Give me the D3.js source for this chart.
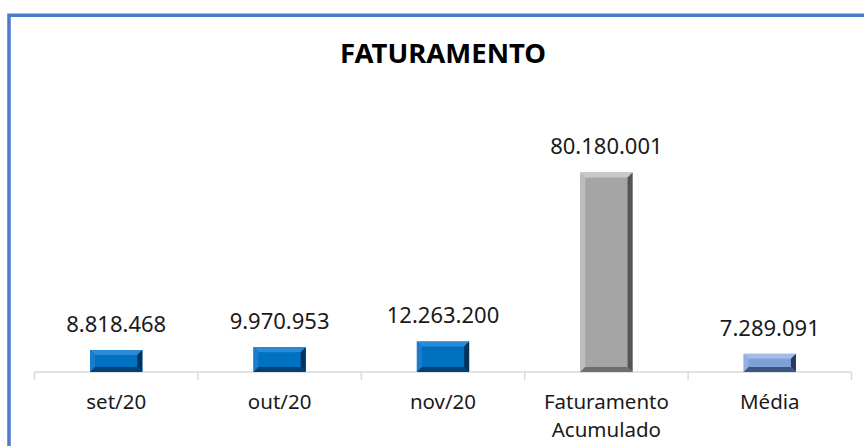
<!DOCTYPE html>
<html>
<head>
<meta charset="utf-8">
<script src="https://cdn.jsdelivr.net/npm/d3@7"></script>
<style>
  body { margin: 0; background: #fff; }
  svg { display: block; }
  text { font-family: "Noto Sans", sans-serif; fill: #1a1a1a; }
</style>
</head>
<body>
<svg id="chart"></svg>
<script>
// data
const categories = ["set/20", "out/20", "nov/20", "Faturamento Acumulado", "Média"];
const values = [8818468, 9970953, 12263200, 80180001, 7289091];
const labels = ["8.818.468", "9.970.953", "12.263.200", "80.180.001", "7.289.091"];
const barKind = ["blue", "blue", "blue", "gray", "light"];

const width = 864, height = 446;
const axisY = 372;

// bevel palettes: face, top, left, right, bottom
const palettes = {
  blue:  { face: "#0070c0", top: "#2a8ad6", left: "#1c7ccc", right: "#00335c", bottom: "#004274" },
  gray:  { face: "#a5a5a5", top: "#c9c9c9", left: "#bcbcbc", right: "#555555", bottom: "#6e6e6e" },
  light: { face: "#7f9fd8", top: "#a3bbe6", left: "#94b0e2", right: "#26385c", bottom: "#3d5585" }
};

const svg = d3.select("#chart")
  .attr("width", width)
  .attr("height", height);

// frame (only the left and top edges are visible)
svg.append("path")
  .attr("d", `M9,${height + 5} L9,15.3 L${width + 5},15.3`)
  .attr("fill", "none")
  .attr("stroke", "#4a7bcc")
  .attr("stroke-width", 3.5);

// title
svg.append("text")
  .attr("x", 443)
  .attr("y", 63)
  .attr("text-anchor", "middle")
  .style("font-size", "27.5px")
  .style("font-weight", "bold")
  .style("fill", "#000")
  .text("FATURAMENTO");

const xBand = d3.scaleBand()
  .domain(categories)
  .range([34.5, 851.5])
  .paddingInner(0.68)
  .paddingOuter(0.34);

const xCell = d3.scaleBand()
  .domain(categories)
  .range([34.5, 851.5]);

const yScale = d3.scaleLinear()
  .domain([0, 90000000])
  .range([axisY, 148]);

// axis line and tick marks
const axisG = svg.append("g").attr("class", "axis x-axis");
axisG.append("line")
  .attr("x1", xCell.range()[0]).attr("x2", xCell.range()[1])
  .attr("y1", axisY).attr("y2", axisY)
  .attr("stroke", "#d9d9d9").attr("stroke-width", 1.5);

const tickXs = categories.map(c => xCell(c)).concat([xCell.range()[1]]);
axisG.selectAll(".tick")
  .data(tickXs)
  .join("line")
  .attr("class", "tick")
  .attr("x1", d => d).attr("x2", d => d)
  .attr("y1", axisY).attr("y2", axisY + 8)
  .attr("stroke", "#d9d9d9").attr("stroke-width", 1.5);

// bars with bevel
const bev = 5;
const bars = svg.append("g").attr("class", "bars")
  .selectAll("g")
  .data(categories.map((c, i) => ({ cat: c, v: values[i], kind: barKind[i], label: labels[i] })))
  .join("g");

bars.each(function(d) {
  const g = d3.select(this);
  const p = palettes[d.kind];
  const x0 = xBand(d.cat), x1 = x0 + xBand.bandwidth();
  const y0 = yScale(d.v), y1 = yScale(0);
  const b = Math.min(bev, (y1 - y0) / 2 - 1);
  const pts = a => a.map(q => q.join(",")).join(" ");
  g.append("rect")
    .attr("x", x0).attr("y", y0)
    .attr("width", x1 - x0).attr("height", y1 - y0)
    .attr("fill", p.face);
  g.append("polygon").attr("fill", p.top)
    .attr("points", pts([[x0, y0], [x1, y0], [x1 - b, y0 + b], [x0 + b, y0 + b]]));
  g.append("polygon").attr("fill", p.left)
    .attr("points", pts([[x0, y0], [x0 + b, y0 + b], [x0 + b, y1 - b], [x0, y1]]));
  g.append("polygon").attr("fill", p.right)
    .attr("points", pts([[x1, y0], [x1, y1], [x1 - b, y1 - b], [x1 - b, y0 + b]]));
  g.append("polygon").attr("fill", p.bottom)
    .attr("points", pts([[x0, y1], [x0 + b, y1 - b], [x1 - b, y1 - b], [x1, y1]]));
});

// value labels
bars.append("text")
  .attr("x", d => xBand(d.cat) + xBand.bandwidth() / 2)
  .attr("y", d => yScale(d.v) - 18)
  .attr("text-anchor", "middle")
  .style("font-size", "22px")
  .text(d => d.label);

// category labels (wrapped at spaces for the long one)
const catG = svg.append("g").attr("class", "cats");
categories.forEach(c => {
  const words = c.split(" ");
  const t = catG.append("text")
    .attr("x", xCell(c) + xCell.bandwidth() / 2)
    .attr("y", 409)
    .attr("text-anchor", "middle")
    .style("font-size", "20.5px");
  words.forEach((w, i) => {
    t.append("tspan")
      .attr("x", xCell(c) + xCell.bandwidth() / 2)
      .attr("dy", i === 0 ? 0 : 28)
      .text(w);
  });
});
</script>
</body>
</html>
